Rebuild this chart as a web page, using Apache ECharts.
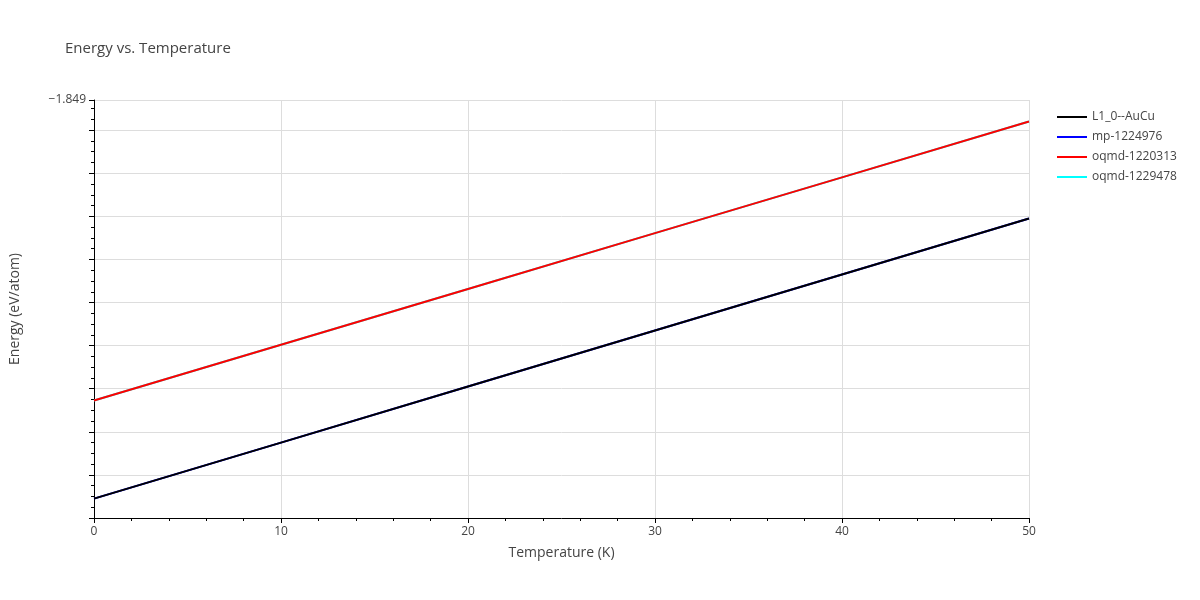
<!DOCTYPE html>
<html>
<head>
<meta charset="utf-8">
<script src="https://cdn.jsdelivr.net/npm/echarts@6/dist/echarts.min.js"></script>
<style>html,body{margin:0;padding:0;background:#fff}#main{width:1200px;height:600px}</style>
</head>
<body>
<div id="main"></div>
<script>
var temps = [0, 10, 20, 30, 40, 50];
var l10AuCu = [-1.86750, -1.86490, -1.86230, -1.85970, -1.85710, -1.85450];
var mp1224976 = [-1.86750, -1.86490, -1.86230, -1.85970, -1.85710, -1.85450];
var oqmd1220313 = [-1.86295, -1.86036, -1.85777, -1.85518, -1.85259, -1.85000];
var oqmd1229478 = [-1.86295, -1.86036, -1.85777, -1.85518, -1.85259, -1.85000];

function pairs(arr) {
  var out = [];
  for (var i = 0; i < temps.length; i++) out.push([temps[i], arr[i]]);
  return out;
}
function line(name, color, arr, z) {
  return { name: name, type: 'line', data: pairs(arr), showSymbol: false, z: z,
    lineStyle: { color: color, width: 2 }, itemStyle: { color: color } };
}

var chart = echarts.init(document.getElementById('main'));
chart.setOption({
  animation: false,
  textStyle: { fontFamily: 'Open Sans, sans-serif', color: '#444' },
  title: { text: 'Energy vs. Temperature', left: 60, top: 36,
    textStyle: { fontSize: 15, fontWeight: 'normal', color: '#444' } },
  legend: { orient: 'vertical', left: 1052, top: 106, itemWidth: 30, itemHeight: 2, itemGap: 8,
    icon: 'rect', textStyle: { fontSize: 12, color: '#444' },
    data: ['L1_0--AuCu', 'mp-1224976', 'oqmd-1220313', 'oqmd-1229478'] },
  grid: { left: 90, right: 171, top: 100, bottom: 82 },
  xAxis: { type: 'value', min: 0, max: 50, interval: 10,
    name: 'Temperature (K)', nameLocation: 'middle', nameGap: 28,
    nameTextStyle: { fontSize: 14, color: '#444' },
    axisLine: { onZero: false, lineStyle: { color: '#000' } },
    axisTick: { show: true, length: 5, lineStyle: { color: '#000' } },
    minorTick: { show: true, splitNumber: 5, length: 3, lineStyle: { color: '#000' } },
    axisLabel: { color: '#444', fontSize: 12 },
    splitLine: { lineStyle: { color: '#ddd' } } },
  yAxis: { type: 'value', min: -1.8684, max: -1.849, interval: 0.002,
    name: 'Energy (eV/atom)', nameLocation: 'middle', nameGap: 72,
    nameTextStyle: { fontSize: 14, color: '#444' },
    axisLine: { show: true, lineStyle: { color: '#000' } },
    axisTick: { show: true, length: 5, lineStyle: { color: '#000' } },
    minorTick: { show: true, splitNumber: 4, length: 3, lineStyle: { color: '#000' } },
    axisLabel: { color: '#444', fontSize: 12,
      formatter: function (v) {
        var s = Math.round(v * 1000) / 1000;
        if (Math.abs(s - v) > 1e-7) return '';
        return String(s).replace('-', '−');
      } },
    splitLine: { lineStyle: { color: '#ddd' } } },
  series: [
    line('mp-1224976', '#0000ff', mp1224976, 1),
    line('oqmd-1229478', '#00ffff', oqmd1229478, 1),
    line('L1_0--AuCu', '#000000', l10AuCu, 2),
    line('oqmd-1220313', '#ff0000', oqmd1220313, 2)
  ]
});
</script>
</body>
</html>
